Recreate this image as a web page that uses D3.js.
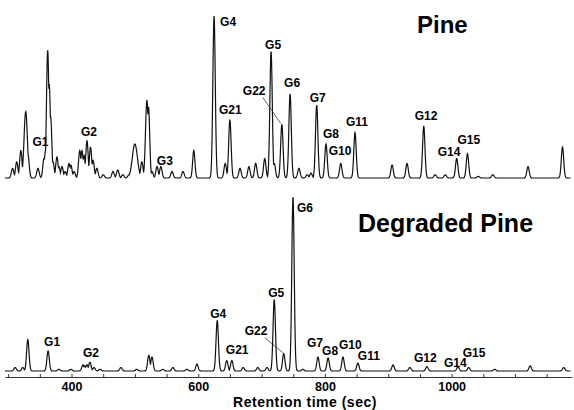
<!DOCTYPE html>
<html>
<head>
<meta charset="utf-8">
<script src="https://cdn.jsdelivr.net/npm/d3@7"></script>
<style>
  body { margin: 0; background: #fff; }
  text { font-family: "Liberation Sans", Arial, sans-serif; font-weight: bold; fill: #000; }
</style>
</head>
<body>
<div class="container"></div>
<script>
// peak retention times (sec) and relative heights
var pineTimes = [307, 313.5, 320, 327.7, 331.3, 347, 356.6, 359, 362.4, 364.8, 367, 370.8, 377, 380, 385, 390, 396, 399, 404,
  413, 416.5, 419.7, 424.4, 430, 434, 440, 450, 465.5, 473, 481, 490.7, 500, 511, 519, 521.5, 527, 535, 541, 558.6, 576, 593,
  625, 642.6, 650, 666, 680, 690.7, 705, 715, 720, 732, 745, 759, 772, 778, 787, 801.7, 825, 847.5,
  906, 929.6, 956, 974, 990, 1008, 1025, 1042, 1065, 1120.6, 1175];
var pineHeights = [6, 10, 17, 41, 14, 6, 12, 17, 79, 58, 38, 10, 13, 7, 7, 4, 9, 8, 4,
  17, 17, 14, 23, 19, 11, 6, 2, 4, 5, 2, 2, 21, 10, 48, 44, 4, 7, 7, 4, 4, 17,
  100, 9, 36, 6, 7, 9, 12, 78, 9, 33, 52, 6, 2, 3, 45, 21, 9, 28,
  8, 9, 32, 2, 2, 12, 15, 1, 2, 7, 19];

var degTimes = [311, 323, 331, 363, 380, 399, 418, 421, 424.4, 429, 435.5, 445, 478, 503, 522, 527, 544, 560, 582, 598,
  630, 645, 653, 671, 694, 708.6, 720, 735, 749.6, 765, 789, 805, 828.5, 852, 907.5,
  934, 961, 1010, 1027, 1068, 1124, 1177];
var degHeights = [2, 2, 18, 11.5, 1, 1, 3.5, 3, 3.5, 5, 2, 1, 2, 1, 9, 8, 1, 2, 1, 4,
  29, 6, 6, 2, 2, 2, 41, 10, 100, 1, 8, 7.5, 8, 4.5, 3.5,
  2, 2.5, 2.5, 2, 1, 3, 2];

// labelled compounds: name and the peak time it marks
var pineLabels = ["G1", "G2", "G3", "G4", "G21", "G5", "G22", "G6", "G7", "G8", "G10", "G11", "G12", "G14", "G15"];
var pineLabelTimes = [359, 424.4, 541, 625, 650, 715, 732, 745, 787, 801.7, 825, 847.5, 956, 1008, 1025];
var degLabels = ["G1", "G2", "G4", "G21", "G5", "G22", "G6", "G7", "G8", "G10", "G11", "G12", "G14", "G15"];
var degLabelTimes = [363, 429, 630, 653, 720, 735, 749.6, 789, 805, 828.5, 852, 961, 1010, 1027];

var xTicks = [400, 600, 800, 1000];

// label offsets from the peak apex (px)
var pineOffsets = {G1: [-13, -4], G2: [-6, -5], G3: [-4, -2], G4: [6, 10], G21: [-11, -6], G5: [-6, -3],
  G22: [-39, -30], G6: [-6, -7], G7: [-7, -3], G8: [-3, -6], G10: [-12, -8], G11: [-9, -7],
  G12: [-9, -6], G14: [-19, -3], G15: [-10, -10]};
var degOffsets = {G1: [-4, -5], G2: [-7, -5], G4: [-7, -3], G21: [-6, -7], G5: [-6, -3], G22: [-39, -19],
  G6: [4, 15], G7: [-11, -10], G8: [-6, -3], G10: [-4, -8], G11: [0, -3], G12: [-13, -5],
  G14: [-14, 0], G15: [-6, -11]};

var width = 574, height = 410;
var svg = d3.select(".container").append("svg")
  .attr("width", width)
  .attr("height", height);

var x = d3.scaleLinear().domain([295, 1190]).range([5, 572]);
var yTop = d3.scaleLinear().domain([0, 100]).range([178, 16]);
var yBot = d3.scaleLinear().domain([0, 100]).range([371, 197]);

var wide = {327.7: 2.6, 500: 4, 519: 2.2, 593: 1.8};

var trace = function(times, heights){
  var pts = [];
  for (var t = 295; t <= 1188; t += 0.4) {
    var v = 0;
    for (var i = 0; i < times.length; i++) {
      var s = wide[times[i]] || 1.9;
      var d = (t - times[i]) / s;
      if (Math.abs(d) < 6) v = Math.max(v, heights[i] * Math.exp(-0.5 * d * d));
    }
    pts.push([t, v]);
  }
  return pts;
};

var drawPanel = function(times, heights, y, names, labelTimes, offsets){
  var line = d3.line().x(function(d){ return x(d[0]); }).y(function(d){ return y(d[1]); });
  svg.append("path")
    .datum(trace(times, heights))
    .attr("d", line)
    .attr("fill", "none")
    .attr("stroke", "#111")
    .attr("stroke-width", 1.2);

  names.forEach(function(n, i){
    var t = labelTimes[i];
    var h = heights[times.indexOf(t)];
    var px = x(t), py = y(h);
    var o = offsets[n];
    svg.append("text")
      .attr("x", px + o[0])
      .attr("y", py + o[1])
      .attr("font-size", 12)
      .text(n);
    if (n == "G22") {
      svg.append("line")
        .attr("x1", px + o[0] + 20).attr("y1", py + o[1] + 3)
        .attr("x2", px - 1).attr("y2", py - 1)
        .attr("stroke", "#222").attr("stroke-width", 0.7);
    }
  });
};

drawPanel(pineTimes, pineHeights, yTop, pineLabels, pineLabelTimes, pineOffsets);
drawPanel(degTimes, degHeights, yBot, degLabels, degLabelTimes, degOffsets);

svg.append("text").attr("x", 417).attr("y", 33).attr("font-size", 24).text("Pine");
svg.append("text").attr("x", 358).attr("y", 232).attr("font-size", 25).text("Degraded Pine");

// axis with minor ticks every 50 s, labels at 400..1000
var axis = d3.axisBottom(x)
  .tickValues(d3.range(300, 1200, 50))
  .tickSizeInner(-3)
  .tickSizeOuter(0)
  .tickPadding(5)
  .tickFormat(function(d){ return xTicks.indexOf(d) >= 0 ? d : ""; });

var g = svg.append("g").attr("transform", "translate(0,377)").call(axis);
g.select(".domain").attr("stroke", "#333").attr("stroke-width", 1.2);
g.selectAll(".tick line").attr("stroke", "#333");
g.selectAll("text").attr("font-size", 12.5).attr("font-family", "Liberation Sans, Arial, sans-serif")
  .attr("font-weight", "bold").attr("fill", "#000");

svg.append("text")
  .attr("x", 305)
  .attr("y", 407)
  .attr("text-anchor", "middle")
  .attr("font-size", 14)
  .attr("letter-spacing", 0.5)
  .text("Retention time (sec)");
</script>
</body>
</html>
